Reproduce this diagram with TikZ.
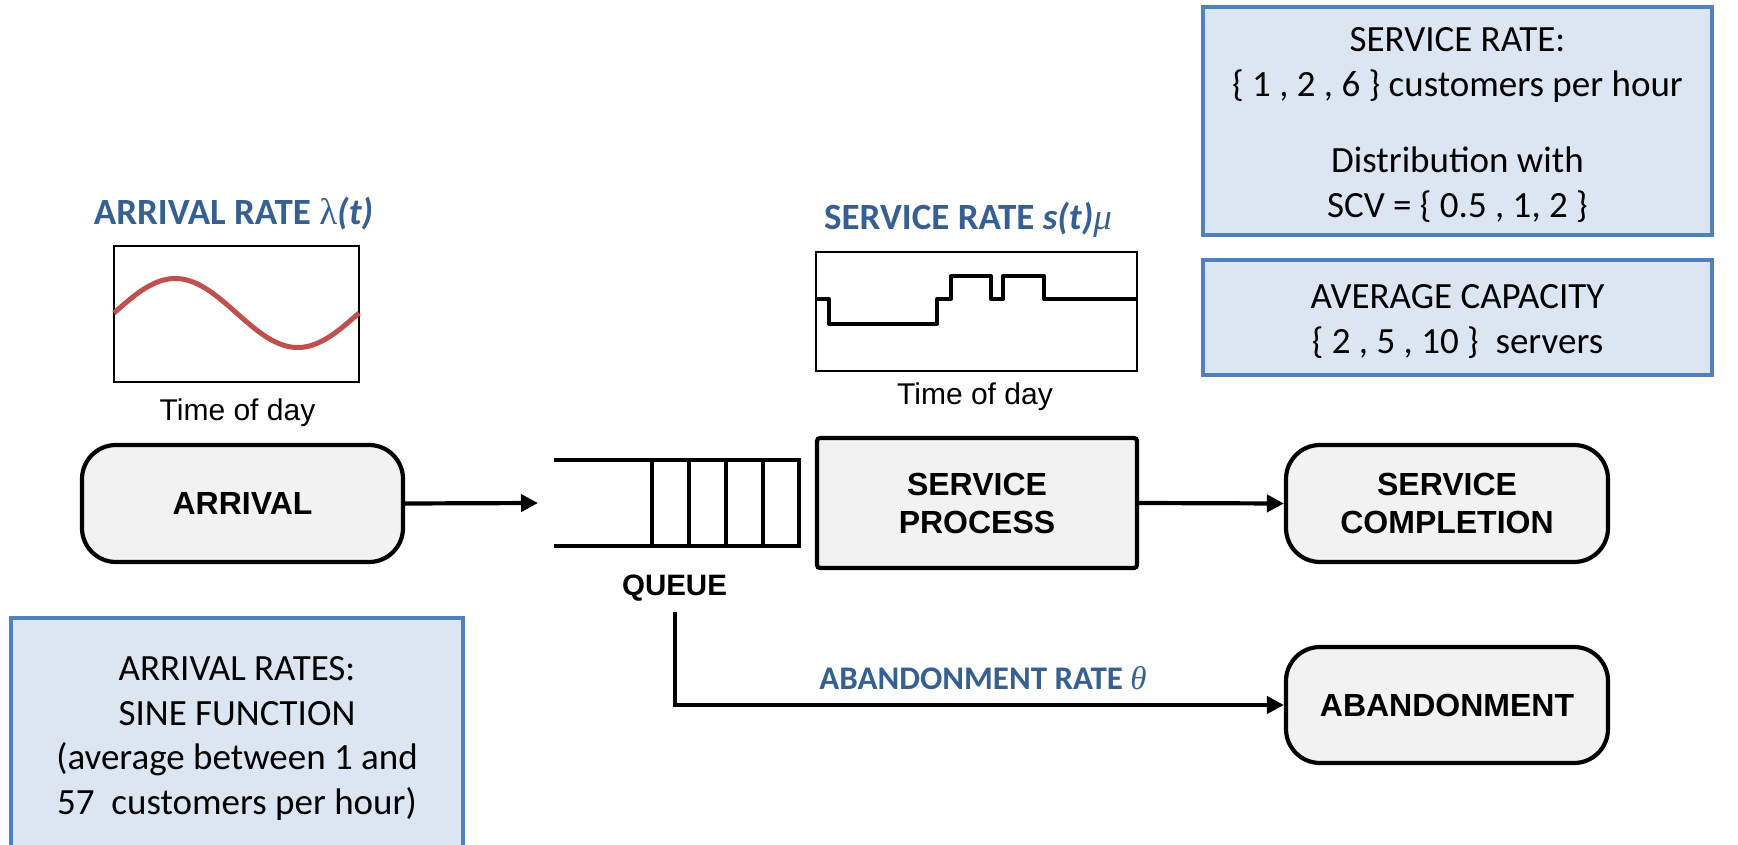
\documentclass[tikz,border=0pt]{standalone}
\usepackage{fontspec}
\setmainfont{Liberation Sans}
\newfontfamily\calibri{Carlito}
\newfontfamily\greekserif{Liberation Serif}
\usetikzlibrary{arrows.meta}

\definecolor{titleblue}{RGB}{55,96,146}
\definecolor{infofill}{RGB}{220,230,242}
\definecolor{infoline}{RGB}{79,129,189}
\definecolor{boxfill}{RGB}{242,242,242}
\definecolor{sinered}{RGB}{192,80,77}

% taller first line, so the text block sits a little lower in its box
\newcommand{\firststrut}{\rule{0pt}{32pt}}

\begin{document}
\begin{tikzpicture}[x=1pt,y=-1pt,
  stage/.style={draw=black, line width=4.2pt, fill=boxfill, rounded corners=34pt,
    minimum width=321pt, minimum height=117pt, inner sep=0pt, align=center,
    font=\fontsize{32}{38}\selectfont\bfseries},
  procbox/.style={stage, rounded corners=3pt, minimum width=320pt, minimum height=130pt},
  infobox/.style={draw=infoline, line width=4pt, fill=infofill, inner sep=0pt,
    align=center, font=\calibri\fontsize{37}{44.5}\selectfont},
  ratetitle/.style={text=titleblue, anchor=base, inner sep=0pt,
    font=\calibri\bfseries\fontsize{37}{40}\selectfont},
  axislabel/.style={anchor=base, inner sep=0pt, font=\fontsize{30}{34}\selectfont},
  chart/.style={draw=black, line width=2pt, inner sep=0pt},
  qline/.style={line width=4.2pt, black},
  conn/.style={line width=4.2pt, black, -{Triangle[length=17pt,width=17pt]}},
]
\useasboundingbox (0,0) rectangle (1738,845);

% parameter boxes
\node[infobox, minimum width=509pt, minimum height=228pt] (svcrate) at (1457.5,121)
  {\firststrut SERVICE RATE:\\ \{ 1 , 2 , 6 \} customers per hour\\[32pt]
   Distribution with\\ SCV = \{ 0.5 , 1, 2 \}};
\node[infobox, minimum width=509pt, minimum height=115pt] (capacity) at (1457.5,317.5)
  {\firststrut AVERAGE CAPACITY\\ \{ 2 , 5 , 10 \}\ \ servers};
\node[infobox, minimum width=452pt, minimum height=233pt] (arrrates) at (237,734.5)
  {\firststrut ARRIVAL RATES:\\ SINE FUNCTION\\ (average between 1 and\\ 57\ \ customers per hour)};

% arrival rate chart
\node[ratetitle] (arrtitle) at (233.5,225)
  {ARRIVAL RATE {\greekserif\mdseries λ}\textit{(t)}};
\node[chart, minimum width=245pt, minimum height=136pt] (arrchart) at (236.5,314) {};
\draw[sinered, line width=5pt]
  plot[domain=0:360, samples=90, smooth] ({114+0.680556*\x}, {313-34.5*sin(\x)});
\node[axislabel] (arrtime) at (237.5,420) {Time of day};

% service rate chart
\node[ratetitle] (svctitle) at (968,230)
  {SERVICE RATE \textit{s(t)}{\greekserif\mdseries\itshape μ}};
\node[chart, minimum width=321pt, minimum height=119pt] (svcchart) at (976.5,311.5) {};
\draw[line width=4pt, line join=round]
  (816,299) -- (829,299) -- (829,324) -- (937,324) -- (937,299) -- (951,299)
  -- (951,276) -- (991,276) -- (991,299) -- (1003,299) -- (1003,276)
  -- (1044,276) -- (1044,299) -- (1137,299);
\node[axislabel] (svctime) at (975,404) {Time of day};

% process stages
\node[stage] (arrival) at (242.5,503.5) {ARRIVAL};
\node[procbox] (process) at (977,503) {SERVICE\\ PROCESS};
\node[stage, minimum width=322pt] (complete) at (1447,503.5) {SERVICE\\ COMPLETION};
\node[stage, minimum width=322pt, minimum height=116pt] (aband) at (1447,705) {ABANDONMENT};

% queue
\node[minimum width=245pt, minimum height=86pt, inner sep=0pt] (queue) at (676.5,503) {};
\draw[qline] (queue.north west) -- (queue.north east) -- (queue.south east) -- (queue.south west);
\foreach \qx in {652,689,726,763}
  \draw[qline] (\qx,460) -- (\qx,546);
\node[anchor=base, inner sep=0pt, font=\fontsize{29.5}{34}\selectfont\bfseries]
  (qlabel) at (674.5,595) {QUEUE};
\coordinate (qin) at (538,503);
\coordinate (qdrop) at (675,612);

% connectors
\draw[conn] (arrival.east) -- (qin);
\draw[conn] (process.east) -- (complete.west);
\draw[conn] (qdrop) |- (aband.west);
\node[ratetitle, font=\calibri\bfseries\fontsize{33}{38}\selectfont] (abtitle) at (983,689)
  {ABANDONMENT RATE {\greekserif\mdseries\itshape θ}};
\end{tikzpicture}
\end{document}
